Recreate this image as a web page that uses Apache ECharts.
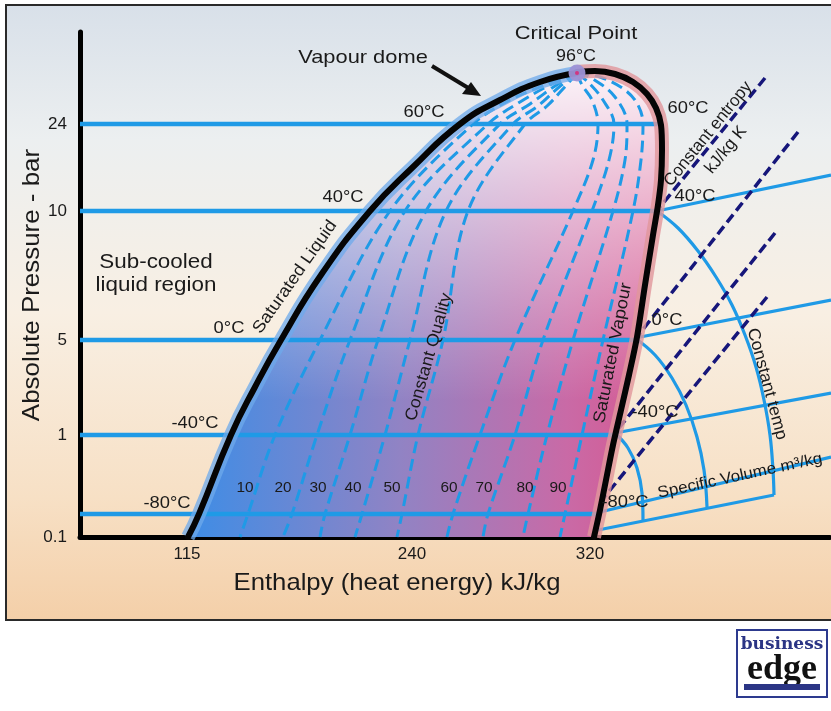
<!DOCTYPE html>
<html><head><meta charset="utf-8">
<script src="https://cdn.jsdelivr.net/npm/echarts@6/dist/echarts.min.js"></script>
<style>html,body{margin:0;padding:0;background:#fff}#c{width:831px;height:711px}</style>
</head><body><div id="c"></div>
<script>
// Schematic pressure–enthalpy diagram (refrigerant). Axes are schematic units.
const enthalpyTickLabels = ['115', '240', '320'];
const enthalpyTickPos = [21.4, 66.4, 102];
const pressureTickLabels = ['0.1', '1', '5', '10', '24'];
const pressureTickPos = [0, 20.4, 39.4, 65.2, 82.6];

const isothermNames = ['60°C', '40°C', '0°C', '-40°C', '-80°C'];
const isothermLevels = [82.6, 65.2, 39.4, 20.4, 4.6];
const isothermEnds = [116.1, 115.5, 111.3, 107, 103.8];

const criticalPoint = [99.4, 92.8];

const satLiquid = [[21.6, 0], [23.8, 4.6], [30.2, 20.4], [35, 30], [40.2, 39.4], [48.2, 52.4], [58, 65.2], [66.6, 74], [76, 82.6], [84, 87.4], [92, 91], [99.4, 92.8]];
const satVapour = [[99.4, 93], [103, 93.2], [107, 92.6], [110.6, 91], [113.4, 88.6], [115.2, 85.8], [116.2, 82.4], [116.4, 77.4], [116.2, 71.4], [115.6, 66.4], [114.6, 60.4], [113, 50.4], [111.4, 40], [109.8, 32.4], [108.2, 25.4], [106.6, 18.4], [105.2, 11.4], [104, 5.4], [102.8, 0]];

const qualityNames = ['10', '20', '30', '40', '50', '60', '70', '80', '90'];
const qualityLines = [
  [[99.4, 92.8], [93, 90.4], [86, 87.4], [78.6, 82.6], [62, 65.2], [48, 39.4], [39, 20.4], [33.6, 4.6], [32, 0]],
  [[99.4, 92.8], [94, 90.4], [88, 87], [81.6, 82.6], [65, 65.2], [54, 39.4], [47.4, 20.4], [42.4, 4.6], [40.6, 0]],
  [[99.4, 92.8], [95, 90.2], [90, 86.6], [84, 82.6], [69.2, 65.2], [59.6, 39.4], [54, 20.4], [49, 4.6], [48, 0]],
  [[99.4, 92.8], [95.6, 89.8], [91.6, 86.2], [86.6, 82.6], [73.2, 65.2], [66, 39.4], [61, 20.4], [56.4, 4.6], [55, 0]],
  [[99.4, 92.8], [96.4, 89.4], [93.4, 86.2], [89, 82.6], [77.6, 65.2], [72.6, 39.4], [67.6, 20.4], [64.4, 4.6], [63.4, 0]],
  [[99.4, 92.8], [100.4, 90.4], [102.4, 87.4], [103.6, 82.6], [102.6, 75.4], [98.6, 65.2], [87, 39.4], [80, 20.4], [74.6, 4.6], [73.4, 0]],
  [[99.4, 92.8], [101.6, 91], [104.6, 87.4], [106.8, 82.6], [105.8, 75.4], [102.4, 65.2], [92.6, 39.4], [87, 20.4], [81.6, 4.6], [80.6, 0]],
  [[99.4, 92.8], [102.6, 91.6], [107, 88], [109.4, 82.6], [109, 75.4], [106.6, 65.2], [98.6, 39.4], [93.4, 20.4], [89.6, 4.6], [88.6, 0]],
  [[99.4, 92.8], [104, 92], [109, 89.4], [111.6, 86.4], [112.6, 82.6], [112.2, 75.4], [110.6, 65.2], [104.6, 39.4], [100.4, 20.4], [97, 4.6], [96, 0]]
];

// Superheated region
const superheatIsotherms = [
  [[115.4, 65.2], [150.2, 72.4]],
  [[111, 39.8], [150.2, 47.4]],
  [[107, 20.8], [150.2, 28.8]],
  [[104, 5], [150.2, 16]]
];
const volumeBaseLine = [[103.6, 1.4], [138.8, 8.4]];
const volumeArcs = [
  [[107, 20.8], [109.6, 17.8], [111.4, 13.8], [112.4, 8.8], [112.6, 3.4]],
  [[111, 39.8], [115, 36.4], [118.4, 31.8], [121.2, 26.4], [123.4, 20], [124.8, 13.4], [125.4, 6]],
  [[115.4, 65.2], [119.6, 61.8], [123.6, 57.2], [127.2, 52], [130.4, 46.4], [133, 40.4], [135.2, 34], [136.8, 27.4], [138, 20.4], [138.6, 13.4], [138.8, 8.4]]
];
const entropyLines = [
  [[137, 91.8], [116, 66]],
  [[143.6, 81], [111.4, 40]],
  [[139, 60.8], [107, 20.8]],
  [[137.4, 48], [104.4, 7.4]]
];

const FONT = "'Liberation Sans', Arial, sans-serif";
const BLUE = '#1f9ae6';
const chart = echarts.init(document.getElementById('c'), null, {renderer: 'canvas'});

function line(data, color, width, opts) {
  opts = opts || {};
  return {
    type: 'line', data: data, showSymbol: false, silent: true, animation: false,
    smooth: opts.smooth === undefined ? 0 : opts.smooth,
    lineStyle: {color: color, width: width, type: opts.dash || 'solid', cap: opts.cap || 'butt', join: 'round'},
    z: opts.z || 3
  };
}

const series = [];
// dome fill
series.push({
  type: 'custom', silent: true, animation: false, z: 1, clip: true,
  data: [0],
  renderItem: function (params, api) {
    const pts = satLiquid.concat(satVapour.slice(1)).map(p => api.coord(p));
    return {type: 'group', children: [
      {type: 'polygon', shape: {points: pts, smooth: 0.3}, style: {
        fill: new echarts.graphic.LinearGradient(0, 0, 1, 0, [
          {offset: 0, color: '#3d8de6'}, {offset: 0.45, color: '#9183c4'}, {offset: 0.8, color: '#c96aa6'}, {offset: 1, color: '#d8578f'}])}},
      {type: 'polygon', shape: {points: pts, smooth: 0.3}, style: {
        fill: new echarts.graphic.LinearGradient(0, 0, 0, 1, [
          {offset: 0, color: 'rgba(255,255,255,0.92)'}, {offset: 0.35, color: 'rgba(255,255,255,0.45)'}, {offset: 0.7, color: 'rgba(255,255,255,0)'}])}}
    ]};
  }
});
qualityLines.forEach(q => series.push(line(q, BLUE, 3, {dash: [12, 6], smooth: 0.35, z: 3})));
isothermLevels.forEach((lv, i) => series.push(line([[0, lv], [isothermEnds[i], lv]], BLUE, 4.5, {z: 4})));
superheatIsotherms.forEach(s => series.push(line(s, BLUE, 3.2, {z: 4})));
series.push(line(volumeBaseLine, BLUE, 3.2, {z: 4}));
volumeArcs.forEach(a => series.push(line(a, BLUE, 3.2, {smooth: 0.4, z: 4})));
entropyLines.forEach(e => series.push(line(e, '#16167a', 3.5, {dash: [10, 5], z: 5})));
// dome outline halos and lines
series.push(line(satLiquid, 'rgba(110,170,235,0.75)', 14, {smooth: 0.5, z: 5}));
series.push(line(satVapour, 'rgba(225,150,155,0.8)', 14, {smooth: 0.3, z: 5}));
series.push(line(satLiquid, '#050505', 6, {smooth: 0.5, z: 6, cap: 'round'}));
series.push(line(satVapour, '#050505', 6, {smooth: 0.3, z: 6, cap: 'round'}));
// critical point
series.push({type: 'scatter', data: [criticalPoint], symbolSize: 17, silent: true, animation: false, z: 8,
  itemStyle: {color: '#9d92d6', opacity: 0.95}});
series.push({type: 'scatter', data: [criticalPoint], symbolSize: 4, silent: true, animation: false, z: 9,
  itemStyle: {color: '#e0206f'}});

function txt(t, x, y, size, rotDeg, sx) {
  return {type: 'text', x: x, y: y, z: 100, rotation: (rotDeg || 0) * Math.PI / 180, scaleX: sx || 1.1, silent: true,
    style: {text: t, x: 0, y: 0, align: 'center', verticalAlign: 'middle', font: size + 'px ' + FONT, fill: '#1a1a1a'}};
}

const qualityLabelX = [245, 283, 318, 353, 392, 449, 484, 525, 558];
const leftIsoLabelPos = [[424, 112], [343, 197], [229, 328], [195, 423], [167, 503]];
const rightIsoLabelPos = [[688, 108], [695, 196], [667, 320], [655, 412], [625, 502]];

const graphics = [
  {type: 'rect', z: -10, silent: true, shape: {x: 6, y: 5, width: 830, height: 615},
    style: {fill: new echarts.graphic.LinearGradient(0, 0, 0, 1, [
      {offset: 0, color: '#d8e0e9'}, {offset: 0.22, color: '#eceff0'}, {offset: 0.5, color: '#f8efe3'},
      {offset: 0.8, color: '#f7e0c5'}, {offset: 1, color: '#f4cfa8'}]), stroke: '#2a2a2a', lineWidth: 2}},
  txt('Critical Point', 576, 34, 19, 0, 1.15),
  txt('96°C', 576, 57, 16, 0, 1.12),
  txt('Vapour dome', 363, 58, 19, 0, 1.15),
  {type: 'line', z: 100, silent: true, shape: {x1: 432, y1: 66, x2: 470, y2: 89}, style: {stroke: '#111', lineWidth: 4}},
  {type: 'polygon', z: 100, silent: true, shape: {points: [[481, 96], [462, 94], [471, 82]]}, style: {fill: '#111'}},
  txt('Sub-cooled', 156, 262, 20, 0, 1.12),
  txt('liquid region', 156, 285, 20, 0, 1.12),
  txt('Saturated Liquid', 295, 277, 17, 55, 1.08),
  txt('Constant Quality', 429, 357, 17, 74, 1.05),
  txt('Saturated Vapour', 613, 353, 17, 79, 1.08),
  txt('Constant entropy', 708, 134, 17, 51, 1.0),
  txt('kJ/kg K', 726, 150, 17, 51, 1.0),
  txt('Constant temp', 767, 384, 17, -75, 1.04),
  txt('Specific Volume m³/kg', 740, 476, 16, 12, 1.06),
  txt('Absolute Pressure - bar', 32, 285, 24, 90, 1.08),
  txt('Enthalpy (heat energy) kJ/kg', 397, 583, 24, 0, 1.07),
  // logo
  {type: 'rect', z: 100, silent: true, shape: {x: 737, y: 630, width: 90, height: 67}, style: {fill: '#fff', stroke: '#2d3a8e', lineWidth: 2}},
  {type: 'text', z: 101, silent: true, x: 782, y: 645, style: {text: 'business', x: 0, y: 0, align: 'center', verticalAlign: 'middle', font: 'bold 17px "DejaVu Serif", serif', fill: '#2b3585'}},
  {type: 'text', z: 101, silent: true, x: 782, y: 670, style: {text: 'edge', x: 0, y: 0, align: 'center', verticalAlign: 'middle', font: 'bold 36px "Liberation Serif", serif', fill: '#111'}},
  {type: 'rect', z: 101, silent: true, shape: {x: 744, y: 684, width: 76, height: 6}, style: {fill: '#2b3585'}}
];
isothermNames.forEach((n, i) => {
  graphics.push(txt(n, leftIsoLabelPos[i][0], leftIsoLabelPos[i][1], 17, 0, 1.08));
  graphics.push(txt(n, rightIsoLabelPos[i][0], rightIsoLabelPos[i][1], 17, 0, 1.08));
});
qualityNames.forEach((n, i) => graphics.push(txt(n, qualityLabelX[i], 488, 14, 0, 1.1)));

chart.setOption({
  animation: false,
  grid: {left: 80, right: 1, top: 32, bottom: 174, containLabel: false},
  xAxis: {type: 'value', min: 0, max: 150,
    axisLine: {show: true, lineStyle: {color: '#000', width: 5}},
    axisTick: {show: false}, splitLine: {show: false},
    axisLabel: {customValues: enthalpyTickPos, color: '#1a1a1a', fontSize: 17, fontFamily: FONT, margin: 9,
      formatter: v => enthalpyTickLabels[enthalpyTickPos.indexOf(v)] || ''}},
  yAxis: {type: 'value', min: 0, max: 101,
    axisLine: {show: true, lineStyle: {color: '#000', width: 5}},
    axisTick: {show: false}, splitLine: {show: false},
    axisLabel: {customValues: pressureTickPos, color: '#1a1a1a', fontSize: 17, fontFamily: FONT, margin: 13,
      formatter: v => pressureTickLabels[pressureTickPos.indexOf(v)] || ''}},
  graphic: graphics,
  series: series
});
</script></body></html>
